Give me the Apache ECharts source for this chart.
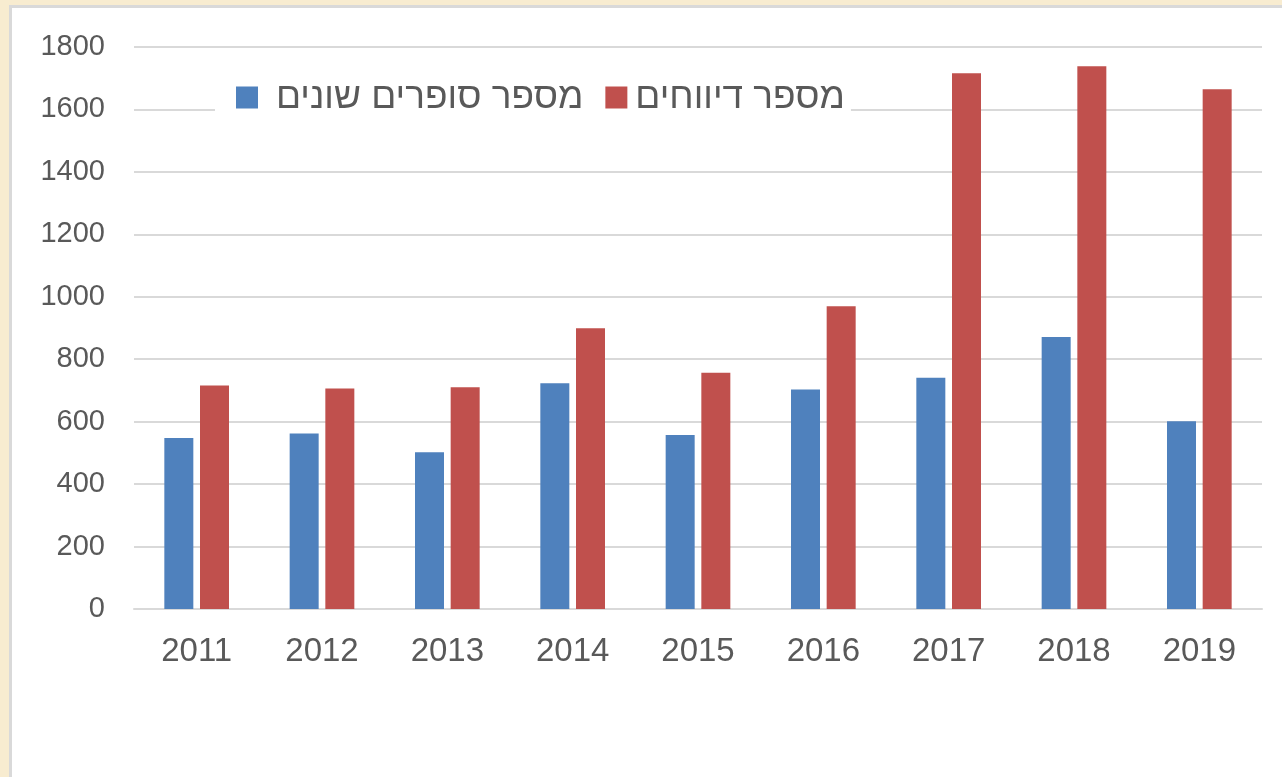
<!DOCTYPE html>
<html>
<head>
<meta charset="utf-8">
<script src="https://cdn.jsdelivr.net/npm/echarts@6/dist/echarts.min.js"></script>
<style>
  html, body { margin: 0; padding: 0; width: 1282px; height: 777px; overflow: hidden; background: #f8ecd0; }
  .frame { position: absolute; left: 9px; top: 5px; width: 1300px; height: 800px; background: #fff; border: 3px solid #d9d9d9; box-sizing: border-box; }
  #main { position: absolute; left: 0; top: 0; width: 1282px; height: 777px; }
</style>
</head>
<body>
<div class="frame"></div>
<div id="main"></div>
<script>
// data
const years = ['2011', '2012', '2013', '2014', '2015', '2016', '2017', '2018', '2019'];
const writers = [548, 562, 502, 723, 557, 703, 741, 871, 601];   // מספר סופרים שונים
const reports = [716, 706, 710, 899, 757, 970, 1716, 1738, 1665]; // מספר דיווחים
const seriesNames = ['מספר סופרים שונים', 'מספר דיווחים'];

const chart = echarts.init(document.getElementById('main'));
const font = 'Liberation Sans, Arial, sans-serif';

chart.setOption({
  animation: false,
  textStyle: { fontFamily: font },
  legend: {
    left: 215,
    top: 75,
    itemWidth: 22,
    itemHeight: 22,
    itemGap: 22,
    padding: [4, 6, 4, 21],
    backgroundColor: '#fff',
    icon: 'rect',
    textStyle: { fontSize: 37, lineHeight: 36, color: '#595959', fontFamily: font },
    data: [
      { name: seriesNames[0], textStyle: { padding: [0, 0, 0, 13] } },
      { name: seriesNames[1], textStyle: { padding: [0, 0, 0, 3] } }
    ]
  },
  grid: { left: 134, right: 20, top: 47, bottom: 168 },
  xAxis: {
    type: 'category',
    data: years,
    axisLine: { lineStyle: { color: '#d9d9d9', width: 2 } },
    axisTick: { show: false },
    axisLabel: { fontSize: 33, color: '#595959', margin: 26 }
  },
  yAxis: {
    type: 'value',
    min: 0,
    max: 1800,
    interval: 200,
    axisLine: { show: false },
    axisTick: { show: false },
    axisLabel: { fontSize: 29, color: '#595959', margin: 29, formatter: v => String(v) },
    splitLine: { lineStyle: { color: '#d9d9d9', width: 2 } }
  },
  series: [
    {
      name: seriesNames[0],
      type: 'bar',
      data: writers,
      barWidth: 29,
      barGap: '23%',
      itemStyle: { color: '#4f81bd' }
    },
    {
      name: seriesNames[1],
      type: 'bar',
      data: reports,
      barWidth: 29,
      barGap: '23%',
      itemStyle: { color: '#c0504d' }
    }
  ]
});
</script>
</body>
</html>
